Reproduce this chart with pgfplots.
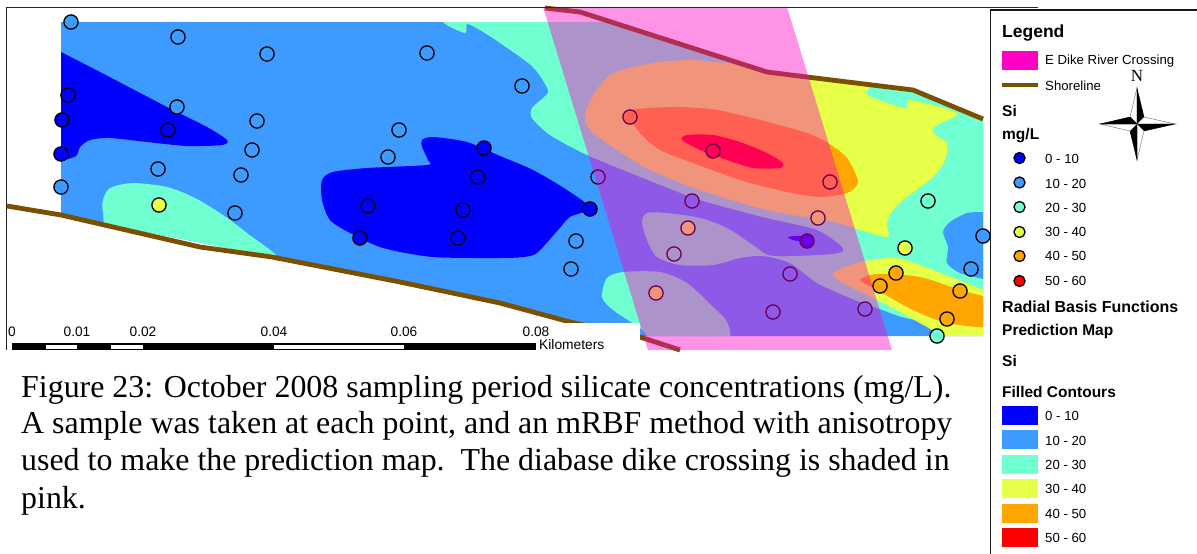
\documentclass[border=0pt]{standalone}
\usepackage{fontspec}
\setmainfont{Liberation Sans}
\newfontfamily\tnr{Liberation Serif}
\usepackage{pgfplots}
\pgfplotsset{compat=1.18}
\definecolor{cA}{HTML}{0000FF}
\definecolor{cB}{HTML}{3D9BFF}
\definecolor{cC}{HTML}{70FFD0}
\definecolor{cD}{HTML}{E6FF47}
\definecolor{cE}{HTML}{FFA600}
\definecolor{cF}{HTML}{FF0000}
\definecolor{cP}{HTML}{FF00C5}
\definecolor{cS}{HTML}{7A4F00}
\newcommand\poly[2]{\addplot[fill=#1,draw=none] coordinates {#2} --cycle;}
\newcommand\blob[2]{\addplot[fill=#1,draw=none,smooth cycle,tension=0.45] coordinates {#2};}
\newcommand\pts[3][1]{\addplot[only marks,mark=*,mark size=#1*7.1pt,mark options={fill=#2,draw=black,line width=1.3pt}] coordinates {#3};}
\begin{document}
\begin{tikzpicture}
\begin{axis}[hide axis,scale only axis,width=1197pt,height=554pt,
  xmin=0,xmax=1197,ymin=0,ymax=554,y dir=reverse,clip=true,clip mode=individual,
]
\poly{white}{(0,0)(1197,0)(1197,554)(0,554)}
% base
\poly{cB}{(61,22)(616,22)(767,72)(807,77)(913,90)(950,104)(983,119)(983,336)(640,336)(570,322)(500,303)(400,282)(272,257)(61,215)}
\begin{scope}
\clip (axis cs:61,22)--(axis cs:616,22)--(axis cs:767,72)--(axis cs:807,77)--(axis cs:913,90)--(axis cs:950,104)--(axis cs:983,119)--(axis cs:983,336)--(axis cs:640,336)--(axis cs:570,322)--(axis cs:500,303)--(axis cs:400,282)--(axis cs:272,257)--(axis cs:61,215)--cycle;
% dark blue blobs
\blob{cA}{(50,46)(61,52)(100,72)(167,107)(207,127)(227,140)(222,145)(187,146)(147,142)(110,138)(90,140)(80,147)(76,156)(61,161)(50,165)}
\blob{cA}{(422,140)(433,137)(467,142)(500,156)(533,170)(567,190)(590,208)(570,217)(558,230)(537,253)(523,257)(500,258)(433,257)(383,248)(350,233)(330,220)(322,200)(322,180)(333,172)(367,168)(427,165)(428,160)(422,147)}
% teal blobs
\blob{cC}{(103,200)(110,188)(133,183)(167,187)(193,197)(220,213)(247,233)(280,262)(200,255)(113,235)(103,212)}
\blob{cC}{(443,5)(443,22)(465,33)(467,24)(480,30)(500,43)(533,67)(548,90)(543,98)(532,108)(532,118)(550,135)(587,155)(643,178)(700,200)(767,218)(817,230)(843,248)(833,254)(773,256)(753,245)(727,228)(700,218)(667,213)(647,213)(642,222)(647,240)(657,257)(680,265)(713,265)(740,258)(763,256)(790,263)(817,283)(850,298)(877,308)(920,320)(1010,310)(1020,200)(1010,90)(850,50)(700,10)(560,-5)}
\blob{cC}{(602,297)(607,278)(623,272)(660,272)(687,283)(713,307)(727,322)(726,340)(660,345)(640,328)(613,310)}
% blue right
\blob{cB}{(1000,210)(983,212)(967,213)(950,222)(943,232)(948,247)(947,263)(960,273)(983,279)(1000,282)}
% yellow
\blob{cD}{(585,115)(593,95)(610,75)(633,67)(660,62)(693,60)(730,63)(767,60)(810,70)(867,85)(867,95)(905,108)(910,100)(957,113)(937,125)(933,133)(947,143)(945,160)(933,177)(907,197)(893,210)(887,222)(888,237)(867,232)(833,222)(767,210)(700,190)(650,170)(617,150)(590,130)}
\blob{cD}{(833,273)(860,262)(897,258)(933,270)(983,290)(1000,300)(1000,345)(947,340)(927,327)(877,300)(843,283)}
% orange
\blob{cE}{(628,112)(650,108)(680,107)(717,110)(760,120)(807,133)(828,143)(847,158)(858,182)(847,193)(820,197)(787,192)(740,180)(693,163)(660,150)(640,133)}
\blob{cE}{(860,280)(877,274)(920,277)(960,290)(990,300)(990,326)(947,323)(913,310)(877,290)}
% red
\blob{cF}{(682,140)(687,135)(713,135)(740,142)(767,153)(783,163)(780,168)(753,168)(727,160)(700,150)}
\blob{cA}{(788,237)(800,236)(807,242)(793,240)}
\end{scope}
% shoreline
\addplot[cS,line width=4.8pt] coordinates {(7,206)(61,215)(200,247)(272,257)(400,282)(500,303)(570,322)(640,337)(680,350)};
\addplot[cS,line width=4.8pt] coordinates {(545,8)(580,12)(767,72)(807,77)(913,90)(983,119)};
% white box under scale
\poly{white}{(7,323)(640,323)(640,350)(7,350)}
% samples
\pts{cB}{(71,22)(178,37)(267,54)(427,53)(177,107)(257,121)(252,150)(241,175)(399,130)(388,157)(158,169)(235,213)(61,187)(522,86)(576,241)(571,269)(983,236)(971,269)(598,177)(692,201)(790,274)(773,312)(865,309)}
\pts{cA}{(68,95)(62,120)(61,154)(168,130)(368,206)(360,238)(463,210)(458,238)(484,148)(478,177)(590,209)(807,241)}
\pts{cC}{(674,254)(937,336)(928,201)}
\pts{cD}{(159,205)(688,228)(818,218)(656,293)(905,248)}
\pts{cE}{(630,117)(830,182)(896,273)(880,286)(960,291)(947,319)}
\pts{cF}{(713,151)}
% pink
\addplot[fill=cP,fill opacity=0.42,draw=none] coordinates {(543,7)(787,7)(892,350)(648,350)} --cycle;
% frames
\addplot[black!85,line width=0.8pt] coordinates {(6,350)(6,7)(1038,7)};
% scale bar
\poly{black}{(12,343)(536,343)(536,350)(12,350)}
\poly{white}{(46,344.5)(77,344.5)(77,349)(46,349)}
\poly{white}{(111,344.5)(143,344.5)(143,349)(111,349)}
\poly{white}{(274,344.5)(404,344.5)(404,349)(274,349)}
\node[font=\fontsize{13.7}{14}\selectfont,inner sep=0] at (axis cs:12,332) {0};
\node[font=\fontsize{13.7}{14}\selectfont,inner sep=0] at (axis cs:77,332) {0.01};
\node[font=\fontsize{13.7}{14}\selectfont,inner sep=0] at (axis cs:143,332) {0.02};
\node[font=\fontsize{13.7}{14}\selectfont,inner sep=0] at (axis cs:274,332) {0.04};
\node[font=\fontsize{13.7}{14}\selectfont,inner sep=0] at (axis cs:404,332) {0.06};
\node[font=\fontsize{13.7}{14}\selectfont,inner sep=0] at (axis cs:536,332) {0.08};
\node[anchor=west,font=\fontsize{13.8}{14}\selectfont,inner sep=0] at (axis cs:539,345) {Kilometers};
% caption
\node[anchor=base west,font=\tnr\fontsize{31.9}{33}\selectfont,inner sep=0] at (axis cs:21,397) {Figure 23: October 2008 sampling period silicate concentrations (mg/L).};
\node[anchor=base west,font=\tnr\fontsize{31.9}{33}\selectfont,inner sep=0] at (axis cs:21,433) {A sample was taken at each point, and an mRBF method with anisotropy};
\node[anchor=base west,font=\tnr\fontsize{31.9}{33}\selectfont,inner sep=0] at (axis cs:21,470) {used to make the prediction map.\ \ The diabase dike crossing is shaded in};
\node[anchor=base west,font=\tnr\fontsize{31.9}{33}\selectfont,inner sep=0] at (axis cs:21,508) {pink.};
% legend panel
\poly{white}{(990,10)(1197,10)(1197,554)(990,554)}
\addplot[black!90,line width=1.2pt] coordinates {(990.5,554)(990.5,10)(1197,10)};
\node[anchor=west,font=\fontsize{17.5}{18}\selectfont\bfseries,inner sep=0] at (axis cs:1002,33.5) {Legend};
\poly{cP}{(1002,51)(1038,51)(1038,70)(1002,70)}
\node[anchor=west,font=\fontsize{13.2}{14}\selectfont,inner sep=0] at (axis cs:1045,61.5) {E Dike River Crossing};
\addplot[cS,line width=4.4pt] coordinates {(1002,85)(1038,85)};
\node[anchor=west,font=\fontsize{13.2}{14}\selectfont,inner sep=0] at (axis cs:1045,85.5) {Shoreline};
\node[anchor=west,font=\fontsize{15.5}{16}\selectfont\bfseries,inner sep=0] at (axis cs:1002,110.5) {Si};
\node[anchor=west,font=\fontsize{15.5}{16}\selectfont\bfseries,inner sep=0] at (axis cs:1002,135.5) {mg/L};
\pts[0.78]{cA}{(1019.5,158)}
\pts[0.78]{cB}{(1019.5,182.5)}
\pts[0.78]{cC}{(1019.5,207)}
\pts[0.78]{cD}{(1019.5,232)}
\pts[0.78]{cE}{(1019.5,256)}
\pts[0.78]{cF}{(1019.5,281)}
\node[anchor=west,font=\fontsize{13.2}{14}\selectfont,inner sep=0] at (axis cs:1045,159) {0 - 10};
\node[anchor=west,font=\fontsize{13.2}{14}\selectfont,inner sep=0] at (axis cs:1045,183.5) {10 - 20};
\node[anchor=west,font=\fontsize{13.2}{14}\selectfont,inner sep=0] at (axis cs:1045,208) {20 - 30};
\node[anchor=west,font=\fontsize{13.2}{14}\selectfont,inner sep=0] at (axis cs:1045,232) {30 - 40};
\node[anchor=west,font=\fontsize{13.2}{14}\selectfont,inner sep=0] at (axis cs:1045,256) {40 - 50};
\node[anchor=west,font=\fontsize{13.2}{14}\selectfont,inner sep=0] at (axis cs:1045,281) {50 - 60};
\node[anchor=west,font=\fontsize{16}{17}\selectfont\bfseries,inner sep=0] at (axis cs:1002,306.5) {Radial Basis Functions};
\node[anchor=west,font=\fontsize{15.5}{16}\selectfont\bfseries,inner sep=0] at (axis cs:1002,331) {Prediction Map};
\node[anchor=west,font=\fontsize{15.5}{16}\selectfont\bfseries,inner sep=0] at (axis cs:1002,361) {Si};
\node[anchor=west,font=\fontsize{15.5}{16}\selectfont\bfseries,inner sep=0] at (axis cs:1002,392) {Filled Contours};
\poly{cA}{(1002,406)(1038,406)(1038,425)(1002,425)}
\poly{cB}{(1002,430)(1038,430)(1038,449)(1002,449)}
\poly{cC}{(1002,455)(1038,455)(1038,474)(1002,474)}
\poly{cD}{(1002,479)(1038,479)(1038,498)(1002,498)}
\poly{cE}{(1002,504)(1038,504)(1038,523)(1002,523)}
\poly{cF}{(1002,528)(1038,528)(1038,547)(1002,547)}
\node[anchor=west,font=\fontsize{13.2}{14}\selectfont,inner sep=0] at (axis cs:1045,416) {0 - 10};
\node[anchor=west,font=\fontsize{13.2}{14}\selectfont,inner sep=0] at (axis cs:1045,441) {10 - 20};
\node[anchor=west,font=\fontsize{13.2}{14}\selectfont,inner sep=0] at (axis cs:1045,465) {20 - 30};
\node[anchor=west,font=\fontsize{13.2}{14}\selectfont,inner sep=0] at (axis cs:1045,489) {30 - 40};
\node[anchor=west,font=\fontsize{13.2}{14}\selectfont,inner sep=0] at (axis cs:1045,514) {40 - 50};
\node[anchor=west,font=\fontsize{13.2}{14}\selectfont,inner sep=0] at (axis cs:1045,538) {50 - 60};
% north arrow
\node[font=\tnr\fontsize{17}{18}\selectfont,inner sep=0] at (axis cs:1137,76) {N};
\addplot[fill=white,draw=black!60,line width=0.4pt] coordinates {(1137,88)(1130,117)(1137,124)} --cycle;
\addplot[fill=black,draw=black,line width=0.4pt] coordinates {(1137,88)(1144,117)(1137,124)} --cycle;
\addplot[fill=white,draw=black!60,line width=0.4pt] coordinates {(1175,124)(1144,117)(1137,124)} --cycle;
\addplot[fill=black,draw=black,line width=0.4pt] coordinates {(1175,124)(1144,131)(1137,124)} --cycle;
\addplot[fill=white,draw=black!60,line width=0.4pt] coordinates {(1137,160)(1144,131)(1137,124)} --cycle;
\addplot[fill=black,draw=black,line width=0.4pt] coordinates {(1137,160)(1130,131)(1137,124)} --cycle;
\addplot[fill=white,draw=black!60,line width=0.4pt] coordinates {(1100,124)(1130,131)(1137,124)} --cycle;
\addplot[fill=black,draw=black,line width=0.4pt] coordinates {(1100,124)(1130,117)(1137,124)} --cycle;
\end{axis}
\end{tikzpicture}
\end{document}
